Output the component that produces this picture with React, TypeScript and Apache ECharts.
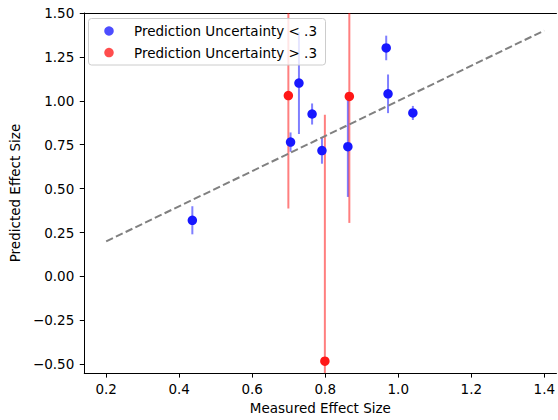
import React, { useEffect, useRef } from "react";
import * as echarts from "echarts";

// Data
const blueX = [0.436, 0.705, 0.728, 0.764, 0.791, 0.862, 0.967, 0.972, 1.04];
const blueY = [0.32, 0.765, 1.101, 0.925, 0.717, 0.739, 1.301, 1.04, 0.931];
const blueErr = [0.08, 0.055, 0.29, 0.06, 0.075, 0.286, 0.07, 0.11, 0.04];

const redX = [0.699, 0.799, 0.866];
const redY = [1.03, -0.482, 1.025];
const redErr = [0.643, 1.403, 0.72];

const idealLine = [
  [0.2, 0.2],
  [1.4, 1.4],
];

const xTicks = [0.2, 0.4, 0.6, 0.8, 1.0, 1.2, 1.4];
const yTicks = [-0.5, -0.25, 0, 0.25, 0.5, 0.75, 1.0, 1.25, 1.5];

const X_MIN = 0.14;
const X_MAX = 1.4333;
const Y_MIN = -0.55;
const Y_MAX = 1.5;

const blueName = "Prediction Uncertainty < .3";
const redName = "Prediction Uncertainty > .3";
const legendNames = [blueName, redName];
const legendColors = ["#4d4dff", "#ff4d4d"];

const FONT = "DejaVu Sans";
const FS = 13.5;

function errorSeries(xs: number[], ys: number[], errs: number[], color: string) {
  const data = xs.map((x, i) => [x, ys[i] - errs[i], ys[i] + errs[i]]);
  return {
    type: "custom",
    clip: true,
    silent: true,
    z: 1,
    data,
    encode: { x: 0, y: [1, 2] },
    renderItem: (params: any, api: any) => {
      const x = api.value(0);
      const lo = Math.max(api.value(1), Y_MIN);
      const hi = Math.min(api.value(2), Y_MAX);
      const p1 = api.coord([x, lo]);
      const p2 = api.coord([x, hi]);
      return {
        type: "line",
        shape: { x1: p1[0], y1: p1[1], x2: p2[0], y2: p2[1] },
        style: { stroke: color, lineWidth: 2 },
      };
    },
  };
}

function legendGraphic() {
  const children: any[] = [
    {
      type: "rect",
      z: 100,
      shape: { x: 88.5, y: 18.5, width: 237, height: 46.5, r: 3 },
      style: { fill: "rgba(255,255,255,0.8)", stroke: "#cccccc", lineWidth: 1 },
    },
  ];
  legendNames.forEach((name, i) => {
    const cy = 31 + i * 21.6;
    children.push({
      type: "circle",
      z: 101,
      shape: { cx: 109, cy, r: 4.75 },
      style: { fill: legendColors[i] },
    });
    children.push({
      type: "text",
      z: 101,
      x: 134,
      y: cy,
      style: {
        text: name,
        fill: "#000",
        font: `${FS}px '${FONT}'`,
        verticalAlign: "middle",
        align: "left",
      },
    });
  });
  return { type: "group", z: 100, children };
}

export default function App() {
  const ref = useRef<HTMLDivElement>(null);
  useEffect(() => {
    if (!ref.current) return;
    const chart = echarts.init(ref.current, null, { renderer: "svg" });
    chart.setOption({
      animation: false,
      backgroundColor: "#ffffff",
      textStyle: { fontFamily: FONT },
      grid: {
        left: 83,
        top: 13,
        right: 0,
        height: 361,
      },
      graphic: [legendGraphic()],
      xAxis: [
        {
          type: "value",
          min: X_MIN,
          max: X_MAX,
          name: "Measured Effect Size",
          nameLocation: "middle",
          nameGap: 27,
          nameTextStyle: { fontFamily: FONT, fontSize: FS, color: "#000" },
          axisLine: { show: true, onZero: false, lineStyle: { color: "#000", width: 1 } },
          axisTick: { show: true, length: 4.5, lineStyle: { color: "#000" }, customValues: xTicks },
          axisLabel: {
            color: "#000",
            fontFamily: FONT,
            fontSize: FS,
            margin: 9,
            customValues: xTicks,
            formatter: (v: number) => v.toFixed(1),
          },
          splitLine: { show: false },
        },
        {
          type: "value",
          position: "top",
          min: X_MIN,
          max: X_MAX,
          axisLine: { show: true, onZero: false, lineStyle: { color: "#000", width: 1 } },
          axisTick: { show: false },
          axisLabel: { show: false },
          splitLine: { show: false },
        },
      ],
      yAxis: {
        type: "value",
        min: Y_MIN,
        max: Y_MAX,
        name: "Predicted Effect Size",
        nameLocation: "middle",
        nameGap: 52,
        nameTextStyle: { fontFamily: FONT, fontSize: FS, color: "#000" },
        axisLine: { show: true, onZero: false, lineStyle: { color: "#000", width: 1 } },
        axisTick: { show: true, length: 4.5, lineStyle: { color: "#000" }, customValues: yTicks },
        axisLabel: {
          color: "#000",
          fontFamily: FONT,
          fontSize: FS,
          margin: 10,
          customValues: yTicks,
          formatter: (v: number) => v.toFixed(2).replace("-", "\u2212"),
        },
        splitLine: { show: false },
      },
      series: [
        errorSeries(blueX, blueY, blueErr, "rgba(0,0,255,0.5)"),
        errorSeries(redX, redY, redErr, "rgba(255,0,0,0.5)"),
        {
          type: "line",
          data: idealLine,
          symbol: "none",
          silent: true,
          z: 2,
          lineStyle: { color: "#808080", width: 2, type: [7.5, 3.3] },
        },
        {
          name: blueName,
          type: "scatter",
          z: 3,
          symbolSize: 9.5,
          itemStyle: { color: "#1717ff", opacity: 1 },
          data: blueX.map((x, i) => [x, blueY[i]]),
        },
        {
          name: redName,
          type: "scatter",
          z: 3,
          symbolSize: 9.5,
          itemStyle: { color: "#ff1717", opacity: 1 },
          data: redX.map((x, i) => [x, redY[i]]),
        },
      ],
    });
    return () => chart.dispose();
  }, []);
  return (
    <div
      ref={ref}
      style={{ position: "absolute", left: 0, top: 0, width: 558, height: 420 }}
    />
  );
}
